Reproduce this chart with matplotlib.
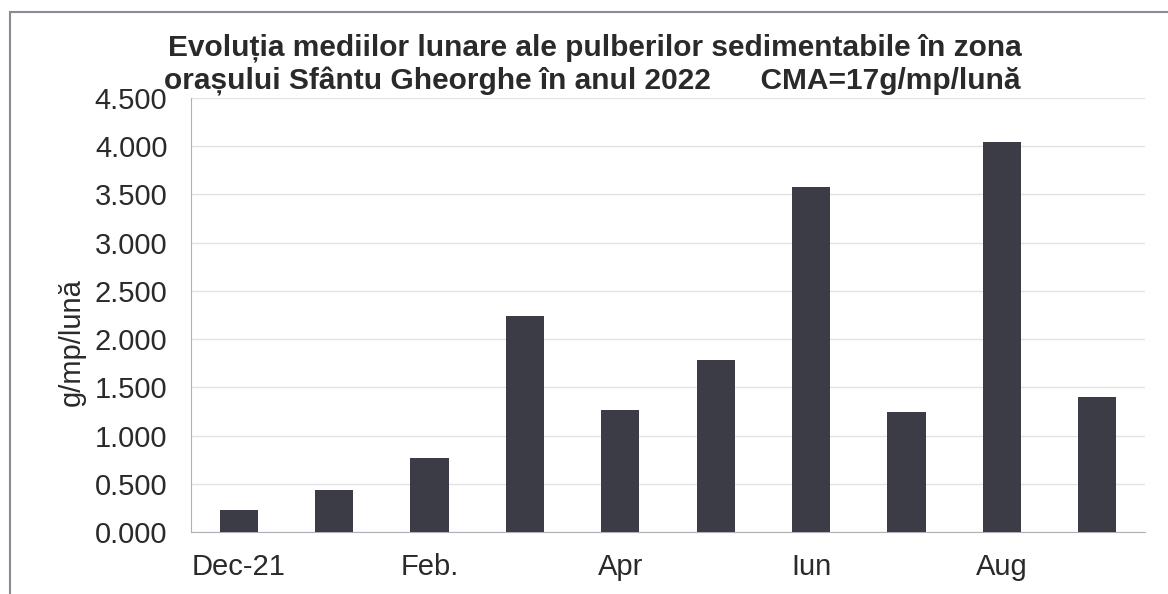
import matplotlib
matplotlib.use("Agg")
import matplotlib.pyplot as plt
from matplotlib.patches import Rectangle

months = ["Dec-21", "Ian", "Feb.", "Mar", "Apr", "Mai", "Iun", "Iul", "Aug", "Sep"]
values = [0.23, 0.44, 0.77, 2.24, 1.26, 1.78, 3.58, 1.24, 4.04, 1.40]
shown_labels = ["Dec-21", "", "Feb.", "", "Apr", "", "Iun", "", "Aug", ""]
yticks = [0.0, 0.5, 1.0, 1.5, 2.0, 2.5, 3.0, 3.5, 4.0, 4.5]

plt.rcParams['font.family'] = ['Liberation Sans', 'DejaVu Sans']

W, H = 1168, 594
fig = plt.figure(figsize=(W / 100, H / 100), dpi=100)
fig.patch.set_facecolor("white")

# outer chart frame
fig.add_artist(Rectangle((10 / W, -0.05), 1.2, 1 - 12 / H + 0.05, transform=fig.transFigure,
                         fill=False, edgecolor="#8a8a94", linewidth=1.5))

left, right, bottom, top = 191, 1145, 532, 98
ax = fig.add_axes([left / W, 1 - bottom / H, (right - left) / W, (bottom - top) / H])
x = list(range(len(months)))
ax.bar(x, values, width=0.4, color="#3c3c46", zorder=3)
ax.set_xlim(-0.5, len(months) - 0.5)
ax.set_ylim(0, 4.5)
ax.set_yticks(yticks)
ax.set_yticklabels([f"{v:.3f}" for v in yticks], fontsize=21, color="#2a2a2a")
ax.set_xticks(x)
ax.set_xticklabels(shown_labels, fontsize=21, color="#2a2a2a")
ax.tick_params(axis="both", length=0)
ax.tick_params(axis="x", pad=15)
ax.tick_params(axis="y", pad=17)
ax.grid(axis="y", color="#e2e2e6", linewidth=1, zorder=0)
for s in ["top", "right"]:
    ax.spines[s].set_visible(False)
ax.spines["left"].set_color("#b0b0b8")
ax.spines["bottom"].set_color("#b0b0b8")

fig.text(72 / W, 1 - 342 / H, "g/mp/lună", rotation=90, ha="center", va="center",
         fontsize=21, color="#2a2a2a")

fig.text(595 / W, 1 - 48 / H, "Evoluția mediilor lunare ale pulberilor sedimentabile în zona",
         ha="center", va="center", fontsize=21.5, fontweight="bold", color="#2a2a2a")
fig.text(592 / W, 1 - 81 / H, "orașului Sfântu Gheorghe în anul 2022      CMA=17g/mp/lună",
         ha="center", va="center", fontsize=21.5, fontweight="bold", color="#2a2a2a")

fig.savefig("out.png", dpi=100)
